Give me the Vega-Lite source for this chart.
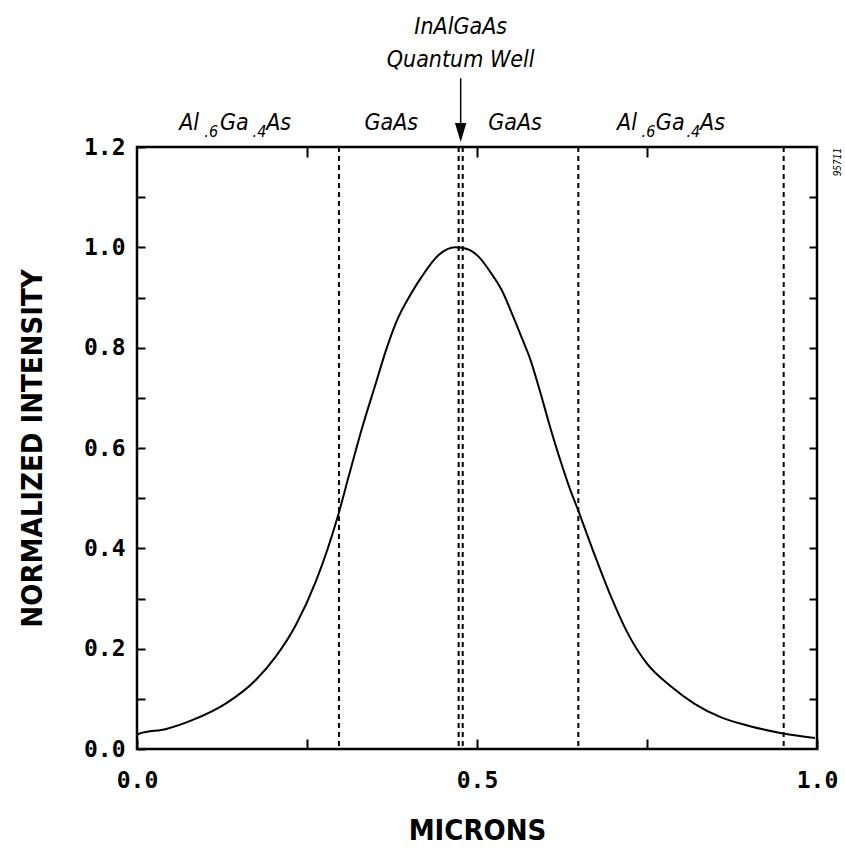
{
  "$schema": "https://vega.github.io/schema/vega-lite/v6.json",
  "width": 680,
  "height": 602,
  "autosize": "none",
  "padding": {"left": 137, "top": 147, "right": 28, "bottom": 103},
  "background": "white",
  "config": {
    "view": {"stroke": "black", "strokeWidth": 2.5},
    "axis": {
      "grid": false,
      "domain": false,
      "tickColor": "black",
      "tickWidth": 2,
      "labelColor": "black",
      "labelFont": "DejaVu Sans Mono",
      "labelFontWeight": "bold",
      "labelFontSize": 23,
      "titleColor": "black",
      "titleFont": "DejaVu Sans Condensed, Liberation Sans, sans-serif",
      "titleFontWeight": "bold",
      "titleFontSize": 29,
      "labelFlush": false,
      "labelOverlap": false
    }
  },
  "datasets": {
    "curve": [
      {"micron": 0.0, "intensity": 0.028},
      {"micron": 0.004, "intensity": 0.031},
      {"micron": 0.043, "intensity": 0.04},
      {"micron": 0.082, "intensity": 0.058},
      {"micron": 0.131, "intensity": 0.091},
      {"micron": 0.175, "intensity": 0.138},
      {"micron": 0.204, "intensity": 0.184},
      {"micron": 0.234, "intensity": 0.248},
      {"micron": 0.263, "intensity": 0.334},
      {"micron": 0.296, "intensity": 0.467},
      {"micron": 0.312, "intensity": 0.547},
      {"micron": 0.331, "intensity": 0.64},
      {"micron": 0.351, "intensity": 0.728},
      {"micron": 0.366, "intensity": 0.794},
      {"micron": 0.38, "intensity": 0.847},
      {"micron": 0.405, "intensity": 0.912},
      {"micron": 0.419, "intensity": 0.942},
      {"micron": 0.444, "intensity": 0.985},
      {"micron": 0.468, "intensity": 1.0},
      {"micron": 0.478, "intensity": 0.999},
      {"micron": 0.502, "intensity": 0.982},
      {"micron": 0.522, "intensity": 0.946},
      {"micron": 0.537, "intensity": 0.913},
      {"micron": 0.552, "intensity": 0.866},
      {"micron": 0.567, "intensity": 0.816},
      {"micron": 0.577, "intensity": 0.782},
      {"micron": 0.592, "intensity": 0.716},
      {"micron": 0.606, "intensity": 0.649},
      {"micron": 0.621, "intensity": 0.582},
      {"micron": 0.636, "intensity": 0.521},
      {"micron": 0.649, "intensity": 0.475},
      {"micron": 0.671, "intensity": 0.394},
      {"micron": 0.696, "intensity": 0.307},
      {"micron": 0.72, "intensity": 0.235},
      {"micron": 0.75, "intensity": 0.17},
      {"micron": 0.785, "intensity": 0.125},
      {"micron": 0.82, "intensity": 0.09},
      {"micron": 0.859, "intensity": 0.063},
      {"micron": 0.903, "intensity": 0.045},
      {"micron": 0.95, "intensity": 0.031},
      {"micron": 0.997, "intensity": 0.022}
    ],
    "boundaries": [
      {"micron": 0.297},
      {"micron": 0.473},
      {"micron": 0.479},
      {"micron": 0.649},
      {"micron": 0.951}
    ],
    "centerLabels": [
      {"text": "InAlGaAs", "micron": 0.476, "intensity": 1.439},
      {"text": "Quantum Well", "micron": 0.476, "intensity": 1.373},
      {"text": "GaAs", "micron": 0.374, "intensity": 1.248},
      {"text": "GaAs", "micron": 0.556, "intensity": 1.248}
    ],
    "fragments": [
      {"text": "Al", "micron": 0.062, "intensity": 1.248},
      {"text": "Ga", "micron": 0.122, "intensity": 1.248},
      {"text": "As", "micron": 0.19, "intensity": 1.248},
      {"text": "Al", "micron": 0.706, "intensity": 1.248},
      {"text": "Ga", "micron": 0.763, "intensity": 1.248},
      {"text": "As", "micron": 0.828, "intensity": 1.248}
    ],
    "subscripts": [
      {"text": ".6", "micron": 0.099, "intensity": 1.229},
      {"text": ".4", "micron": 0.17, "intensity": 1.229},
      {"text": ".6", "micron": 0.742, "intensity": 1.229},
      {"text": ".4", "micron": 0.808, "intensity": 1.229}
    ],
    "arrow": [
      {"micron": 0.476, "top": 1.337, "tip": 1.235, "head": 1.229}
    ],
    "code": [
      {"text": "95711", "micron": 1.031, "intensity": 1.17}
    ]
  },
  "layer": [
    {
      "data": {"name": "curve"},
      "mark": {"type": "line", "color": "black", "strokeWidth": 2, "interpolate": "monotone"},
      "encoding": {
        "x": {
          "field": "micron", "type": "quantitative",
          "scale": {"domain": [0, 1], "nice": false},
          "axis": {
            "orient": "bottom",
            "title": "MICRONS",
            "values": [0, 0.25, 0.5, 0.75, 1],
            "labelExpr": "(datum.value == 0 || datum.value == 0.5 || datum.value == 1) ? format(datum.value, '.1f') : ''",
            "tickSize": -10,
            "labelPadding": 30,
            "titlePadding": 24
          }
        },
        "y": {
          "field": "intensity", "type": "quantitative",
          "scale": {"domain": [0, 1.2], "nice": false},
          "axis": {
            "orient": "left",
            "title": "NORMALIZED INTENSITY",
            "values": [0, 0.1, 0.2, 0.3, 0.4, 0.5, 0.6, 0.7, 0.8, 0.9, 1.0, 1.1, 1.2],
            "labelExpr": "round(datum.value * 10) % 2 == 0 ? format(datum.value, '.1f') : ''",
            "tickSize": -8,
            "labelPadding": 20,
            "titlePadding": 36
          }
        }
      }
    },
    {
      "data": {"name": "boundaries"},
      "mark": {"type": "rule", "color": "black", "strokeWidth": 2, "strokeDash": [5, 4]},
      "encoding": {
        "x": {
          "field": "micron", "type": "quantitative",
          "scale": {"domain": [0, 1], "nice": false},
          "axis": {
            "orient": "top",
            "title": null,
            "values": [0.25, 0.5, 0.75],
            "labels": false,
            "tickSize": -10
          }
        }
      }
    },
    {
      "data": {"name": "centerLabels"},
      "mark": {"type": "text", "font": "DejaVu Sans Condensed, Liberation Sans, sans-serif", "fontStyle": "italic", "fontSize": 23, "color": "black", "align": "center", "baseline": "middle"},
      "encoding": {
        "x": {"field": "micron", "type": "quantitative", "scale": {"domain": [0, 1], "nice": false}, "axis": null},
        "y": {
          "field": "intensity", "type": "quantitative",
          "scale": {"domain": [0, 1.2], "nice": false},
          "axis": {
            "orient": "right",
            "title": null,
            "values": [0.1, 0.2, 0.3, 0.4, 0.5, 0.6, 0.7, 0.8, 0.9, 1.0, 1.1],
            "labels": false,
            "tickSize": -8
          }
        },
        "text": {"field": "text", "type": "nominal"}
      }
    },
    {
      "data": {"name": "fragments"},
      "mark": {"type": "text", "font": "DejaVu Sans Condensed, Liberation Sans, sans-serif", "fontStyle": "italic", "fontSize": 23, "color": "black", "align": "left", "baseline": "middle"},
      "encoding": {
        "x": {"field": "micron", "type": "quantitative", "scale": {"domain": [0, 1], "nice": false}, "axis": null},
        "y": {"field": "intensity", "type": "quantitative", "scale": {"domain": [0, 1.2], "nice": false}, "axis": null},
        "text": {"field": "text", "type": "nominal"}
      }
    },
    {
      "data": {"name": "subscripts"},
      "mark": {"type": "text", "font": "DejaVu Sans Condensed, Liberation Sans, sans-serif", "fontStyle": "italic", "fontSize": 16, "color": "black", "align": "left", "baseline": "middle"},
      "encoding": {
        "x": {"field": "micron", "type": "quantitative", "scale": {"domain": [0, 1], "nice": false}, "axis": null},
        "y": {"field": "intensity", "type": "quantitative", "scale": {"domain": [0, 1.2], "nice": false}, "axis": null},
        "text": {"field": "text", "type": "nominal"}
      }
    },
    {
      "data": {"name": "arrow"},
      "mark": {"type": "rule", "color": "black", "strokeWidth": 1.5},
      "encoding": {
        "x": {"field": "micron", "type": "quantitative", "scale": {"domain": [0, 1], "nice": false}, "axis": null},
        "y": {"field": "top", "type": "quantitative", "scale": {"domain": [0, 1.2], "nice": false}, "axis": null},
        "y2": {"field": "tip"}
      }
    },
    {
      "data": {"name": "arrow"},
      "mark": {"type": "point", "shape": "M-0.6,-1L0.6,-1L0,1Z", "filled": true, "color": "black", "size": 361, "opacity": 1},
      "encoding": {
        "x": {"field": "micron", "type": "quantitative", "scale": {"domain": [0, 1], "nice": false}, "axis": null},
        "y": {"field": "head", "type": "quantitative", "scale": {"domain": [0, 1.2], "nice": false}, "axis": null}
      }
    },
    {
      "data": {"name": "code"},
      "mark": {"type": "text", "font": "DejaVu Sans Condensed, Liberation Sans, sans-serif", "fontStyle": "italic", "fontSize": 10, "color": "black", "align": "center", "baseline": "middle", "angle": 270},
      "encoding": {
        "x": {"field": "micron", "type": "quantitative", "scale": {"domain": [0, 1], "nice": false}, "axis": null},
        "y": {"field": "intensity", "type": "quantitative", "scale": {"domain": [0, 1.2], "nice": false}, "axis": null},
        "text": {"field": "text", "type": "nominal"}
      }
    }
  ],
  "resolve": {"axis": {"x": "independent", "y": "independent"}}
}
